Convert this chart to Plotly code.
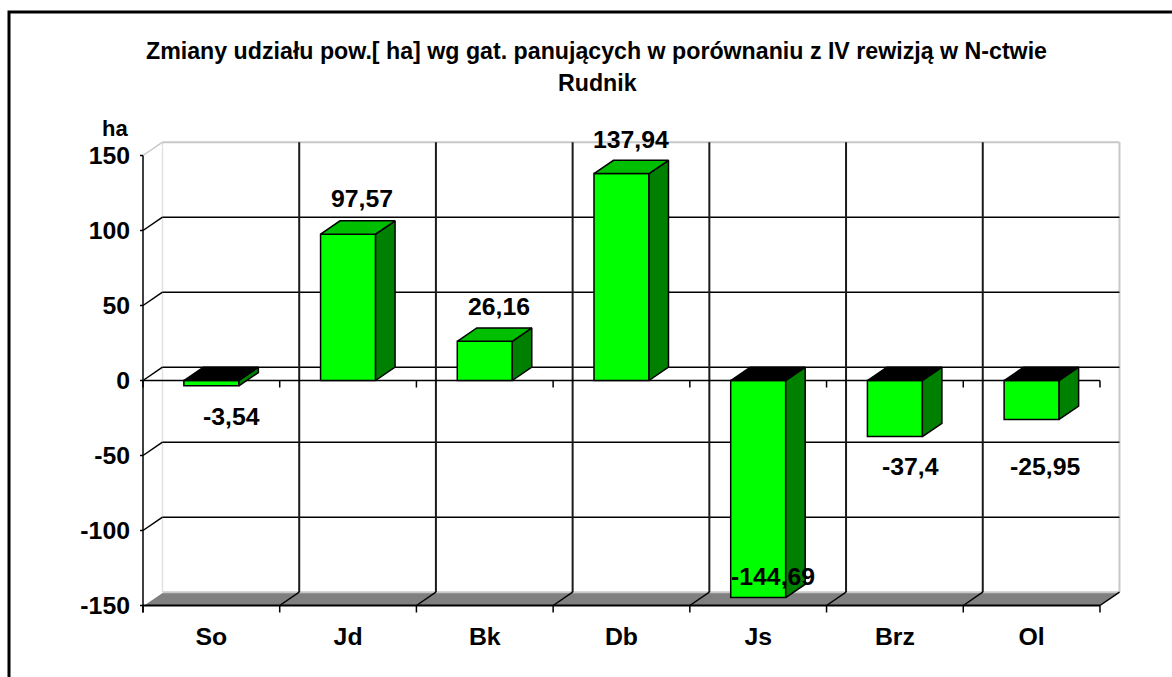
import plotly.graph_objects as go

categories = ["So", "Jd", "Bk", "Db", "Js", "Brz", "Ol"]
values = [-3.54, 97.57, 26.16, 137.94, -144.69, -37.4, -25.95]
labels = ["-3,54", "97,57", "26,16", "137,94", "-144,69", "-37,4", "-25,95"]
y_ticks = [-150, -100, -50, 0, 50, 100, 150]
title_lines = ["Zmiany udziału pow.[ ha] wg gat. panujących w porównaniu z IV rewizją w N-ctwie", "Rudnik"]

# Label nudges (pixels) relative to each bar's end
label_xshift = [20, 14, 14, 10, 15, 16, 14]
label_yshift = [-31, 36, 35, 34, 21, -30, -47]

# ---- geometry / style ----
FONT = "Liberation Sans"
PX_CAT = 136.71          # px per category
PX_UNIT = 1.5            # px per value unit
X_LEFT = 143.0           # front-left corner
Y_ZERO = 380.5           # front zero line
DX = 19.5 / PX_CAT       # depth offset in category units
DY = 13.3 / PX_UNIT      # depth offset in value units
BAR_W = 55 / PX_CAT
PLOT_L, PLOT_R, PLOT_T, PLOT_B = 139.0, 1122.0, 140.0, 616.0
W, H = 1172, 677
x_lo, x_hi = -0.5, len(categories) - 0.5
TICK_DROP = 7 / PX_UNIT


def px_x(p):
    return -0.5 + (p - X_LEFT) / PX_CAT


def px_y(p):
    return (Y_ZERO - p) / PX_UNIT


def paper_x(p):
    return (p - PLOT_L) / (PLOT_R - PLOT_L)


def paper_y(p):
    return (PLOT_B - p) / (PLOT_B - PLOT_T)


shapes = []


def seg(x0, y0, x1, y1, color="black", width=1.5):
    shapes.append(dict(type="line", x0=x0, y0=y0, x1=x1, y1=y1, layer="below",
                       line=dict(color=color, width=width)))


y_min, y_max = min(y_ticks), max(y_ticks)

# floor
shapes.append(dict(type="path", layer="below", fillcolor="#808080", line=dict(width=0),
                   path=f"M {x_lo} {y_min} L {x_hi} {y_min} L {x_hi + DX} {y_min + DY} L {x_lo + DX} {y_min + DY} Z"))
# walls
seg(x_lo + DX, y_min + DY, x_lo + DX, y_max + DY, "#e2e2e2", 1.5)
seg(x_hi + DX, y_min + DY, x_hi + DX, y_max + DY, "#c8c8c8", 2)
seg(x_lo + DX, y_max + DY, x_hi + DX, y_max + DY, "#c8c8c8", 2)
seg(x_lo + DX, y_min + DY, x_hi + DX, y_min + DY, "#c8c8c8", 2)
seg(x_lo, y_max, x_lo + DX, y_max + DY, "#c8c8c8", 1.5)
seg(x_lo, y_min, x_lo + DX, y_min + DY, "#ffffff", 1.5)

# horizontal gridlines on back wall + connectors
for v in y_ticks:
    if v not in (y_min, y_max):
        seg(x_lo + DX, v + DY, x_hi + DX, v + DY)
        seg(x_lo, v, x_lo + DX, v + DY)
    seg(x_lo - 3 / PX_CAT, v, x_lo, v)

# vertical gridlines + floor connectors + ticks
n = len(categories)
for i in range(n + 1):
    xb = x_lo + i
    if 0 < i < n:
        seg(xb + DX, y_min + DY, xb + DX, y_max + DY, "#1a1a1a", 2)
    if i > 0:
        seg(xb, y_min, xb + DX, y_min + DY)
    seg(xb, y_min, xb, y_min - TICK_DROP)
    seg(xb, 0, xb, -TICK_DROP)

# axes on the front plane
seg(x_lo, 0, x_hi, 0)
seg(x_lo, y_min, x_hi, y_min, "black", 2)
seg(x_lo, y_max, x_lo, y_min - TICK_DROP)

# outer frame
shapes.append(dict(type="rect", xref="paper", yref="paper", layer="below",
                   x0=paper_x(9), x1=paper_x(W + 20), y0=paper_y(H + 20), y1=paper_y(12),
                   line=dict(color="black", width=3), fillcolor="rgba(0,0,0,0)"))

# 3D faces computed from the values
side_x, side_y, top_pos_x, top_pos_y, top_neg_x, top_neg_y = [], [], [], [], [], []
for i, v in enumerate(values):
    r = i + BAR_W / 2
    l = i - BAR_W / 2
    side_x += [r, r, r + DX, r + DX, r, None]
    side_y += [0, v, v + DY, DY, 0, None]
    t = max(v, 0)
    poly_x = [l, r, r + DX, l + DX, l, None]
    poly_y = [t, t, t + DY, t + DY, t, None]
    if v >= 0:
        top_pos_x += poly_x
        top_pos_y += poly_y
    else:
        top_neg_x += poly_x
        top_neg_y += poly_y

outline = dict(color="black", width=1.5)
fig = go.Figure()
fig.add_trace(go.Bar(x=list(range(n)), y=values, width=BAR_W, name="front",
                     marker=dict(color="#00ff00", line=outline)))
for xs, ys, col in [(side_x, side_y, "#008000"), (top_pos_x, top_pos_y, "#00bf00"),
                    (top_neg_x, top_neg_y, "#000000")]:
    fig.add_trace(go.Scatter(x=xs, y=ys, mode="lines", fill="toself", fillcolor=col,
                             line=outline, hoverinfo="skip"))

annotations = [
    dict(x=i, y=v, text=labels[i], showarrow=False, xshift=label_xshift[i], yshift=label_yshift[i],
         xanchor="center", yanchor="middle", font=dict(family=FONT, size=24.8, color="black", weight=700))
    for i, v in enumerate(values)
]
annotations.append(dict(xref="paper", yref="paper", x=paper_x(114.5), y=paper_y(128), text="ha", showarrow=False,
                        xanchor="center", yanchor="middle",
                        font=dict(family=FONT, size=22, color="black", weight=700)))
annotations.append(dict(xref="paper", yref="paper", x=paper_x(596), y=paper_y(51), text=title_lines[0],
                        showarrow=False, xanchor="center", yanchor="middle",
                        font=dict(family=FONT, size=23.2, color="black", weight=700)))
annotations.append(dict(xref="paper", yref="paper", x=paper_x(597), y=paper_y(83), text=title_lines[1],
                        showarrow=False, xanchor="center", yanchor="middle",
                        font=dict(family=FONT, size=23.2, color="black", weight=700)))

fig.update_layout(
    width=W, height=H, showlegend=False, paper_bgcolor="white", plot_bgcolor="white",
    margin=dict(l=PLOT_L, r=W - PLOT_R, t=PLOT_T, b=H - PLOT_B, pad=0, autoexpand=False),
    shapes=shapes, annotations=annotations, barmode="overlay",
    xaxis=dict(range=[px_x(PLOT_L), px_x(PLOT_R)], tickvals=list(range(n)), ticktext=categories,
               showgrid=False, zeroline=False, showline=False, ticks="", ticklabelstandoff=3,
               tickfont=dict(family=FONT, size=24.8, color="black", weight=700)),
    yaxis=dict(range=[px_y(PLOT_B), px_y(PLOT_T)], tickvals=y_ticks, ticktext=[str(v) for v in y_ticks],
               showgrid=False, zeroline=False, showline=False, ticks="", ticklabelstandoff=8,
               tickfont=dict(family=FONT, size=24.8, color="black", weight=700)),
)
fig.write_html("out.html", config={"displayModeBar": False},
               post_script="document.body.style.margin='0';document.body.style.overflow='hidden';")
